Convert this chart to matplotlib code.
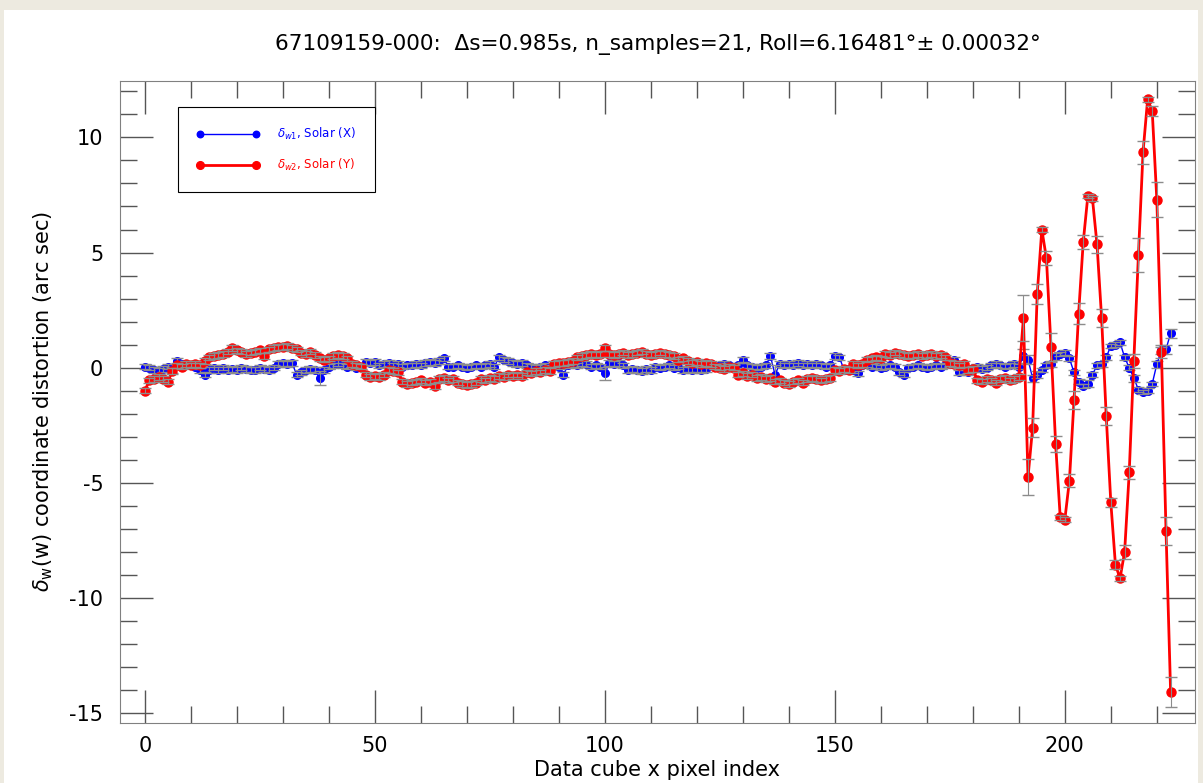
import numpy as np
import matplotlib
matplotlib.use("Agg")
import matplotlib.pyplot as plt
from matplotlib.patches import Rectangle
from matplotlib.ticker import MultipleLocator

plt.rcParams["axes.unicode_minus"] = False

# pixel index along the data cube x axis
pixel_index = list(range(224))

# delta_w1, Solar (X)
solar_x = [
    0.05, 0.0, -0.1, -0.15, -0.05, 0.05, -0.1, 0.3, 0.15, 0.1,
    0.1, 0.05, -0.1, -0.3, -0.1, 0.0, -0.1, 0.0, -0.1, -0.05,
    -0.1, 0.0, -0.05, -0.1, -0.1, 0.0, -0.05, -0.1, 0.0, 0.15,
    0.2, 0.15, 0.2, -0.3, -0.2, -0.1, -0.05, -0.1, -0.45, -0.1,
    0.05, 0.1, 0.2, 0.1, 0.05, 0.15, 0.0, 0.05, 0.25, 0.2,
    0.25, 0.1, 0.15, 0.2, 0.1, 0.15, 0.05, 0.1, 0.1, 0.15,
    0.1, 0.2, 0.25, 0.2, 0.3, 0.4, 0.05, 0.05, 0.1, 0.05,
    0.0, 0.05, 0.1, 0.05, 0.1, 0.15, 0.05, 0.45, 0.35, 0.3,
    0.2, 0.15, 0.2, 0.1, 0.05, 0.0, 0.05, 0.1, 0.0, 0.15,
    0.05, -0.3, 0.1, 0.15, 0.1, 0.2, 0.15, 0.05, 0.1, 0.05,
    -0.25, 0.2, 0.15, 0.2, 0.1, -0.1, -0.05, -0.1, -0.15, -0.05,
    -0.1, 0.05, 0.0, 0.05, 0.1, 0.0, 0.05, -0.1, -0.05, -0.1,
    -0.05, -0.1, -0.05, 0.1, 0.05, 0.1, 0.15, 0.1, 0.05, 0.1,
    0.35, 0.1, 0.05, 0.0, 0.05, 0.1, 0.5, -0.3, 0.15, 0.1,
    0.15, 0.1, 0.2, 0.1, 0.15, 0.1, 0.15, 0.1, 0.05, 0.1,
    0.5, 0.45, -0.1, -0.05, -0.1, -0.25, 0.1, 0.15, 0.05, 0.1,
    0.0, 0.05, 0.1, 0.05, -0.2, -0.3, 0.0, 0.05, 0.1, 0.05,
    0.0, 0.05, 0.1, 0.05, 0.1, 0.15, 0.35, -0.2, -0.15, -0.2,
    0.0, 0.05, -0.05, 0.0, 0.1, 0.15, 0.1, 0.05, 0.1, 0.15,
    0.05, 0.5, 0.35, -0.45, -0.3, -0.1, 0.1, 0.15, 0.5, 0.6,
    0.65, 0.4, -0.2, -0.6, -0.8, -0.7, -0.3, 0.1, 0.15, 0.45,
    0.95, 1.0, 1.1, 0.45, 0.0, -0.45, -0.95, -1.05, -1.0, -0.7,
    0.15, 0.75, 0.8, 1.5,
]

# delta_w2, Solar (Y)
solar_y = [
    -1.0, -0.55, -0.5, -0.4, -0.5, -0.6, -0.15, 0.1, 0.05, 0.15,
    0.1, 0.15, 0.1, 0.3, 0.45, 0.5, 0.55, 0.6, 0.7, 0.85,
    0.75, 0.7, 0.6, 0.65, 0.7, 0.75, 0.5, 0.8, 0.85, 0.9,
    0.9, 0.95, 0.85, 0.8, 0.65, 0.6, 0.7, 0.55, 0.4, 0.35,
    0.4, 0.5, 0.55, 0.5, 0.4, 0.15, 0.1, 0.05, -0.3, -0.4,
    -0.35, -0.4, -0.3, -0.1, -0.15, -0.2, -0.6, -0.7, -0.65, -0.6,
    -0.55, -0.65, -0.6, -0.8, -0.5, -0.45, -0.55, -0.5, -0.65, -0.7,
    -0.75, -0.7, -0.65, -0.5, -0.55, -0.45, -0.5, -0.35, -0.4, -0.3,
    -0.35, -0.3, -0.35, -0.2, -0.25, -0.15, -0.2, -0.1, -0.15, 0.15,
    0.2, 0.2, 0.25, 0.3, 0.45, 0.5, 0.55, 0.6, 0.55, 0.6,
    0.85, 0.6, 0.55, 0.6, 0.65, 0.55, 0.6, 0.65, 0.7, 0.6,
    0.55, 0.6, 0.65, 0.6, 0.55, 0.5, 0.35, 0.4, 0.3, 0.2,
    0.25, 0.15, 0.2, 0.15, 0.05, 0.0, -0.05, 0.05, 0.0, -0.3,
    -0.25, -0.35, -0.3, -0.45, -0.4, -0.5, -0.45, -0.6, -0.55, -0.65,
    -0.7, -0.6, -0.55, -0.65, -0.5, -0.45, -0.5, -0.55, -0.5, -0.45,
    -0.1, -0.15, -0.05, -0.1, 0.15, 0.1, 0.15, 0.35, 0.4, 0.45,
    0.4, 0.6, 0.55, 0.65, 0.6, 0.55, 0.5, 0.55, 0.6, 0.5,
    0.55, 0.6, 0.5, 0.55, 0.45, 0.2, 0.15, 0.1, 0.15, -0.1,
    -0.05, -0.55, -0.6, -0.5, -0.55, -0.65, -0.5, -0.45, -0.55, -0.5,
    -0.4, 2.15, -4.75, -2.6, 3.2, 6.0, 4.75, 0.9, -3.3, -6.5,
    -6.6, -4.9, -1.4, 2.35, 5.45, 7.45, 7.35, 5.35, 2.15, -2.1,
    -5.85, -8.55, -9.15, -8.0, -4.55, 0.3, 4.9, 9.35, 11.65, 11.15,
    7.3, 0.7, -7.1, -14.1,
]

# 1-sigma errors
err_x = [0.12] * 191 + [
    0.3, 0.2, 0.15, 0.15, 0.1, 0.1, 0.1, 0.15, 0.1, 0.1,
    0.1, 0.1, 0.1, 0.1, 0.15, 0.1, 0.1, 0.1, 0.1, 0.1,
    0.1, 0.1, 0.1, 0.1, 0.15, 0.1, 0.1, 0.1, 0.1, 0.15,
    0.15, 0.2, 0.2,
]
err_y = [0.12] * 191 + [
    1.0, 0.8, 0.4, 0.45, 0.1, 0.3, 0.6, 0.35, 0.1, 0.1,
    0.3, 0.4, 0.45, 0.3, 0.1, 0.1, 0.35, 0.4, 0.4, 0.2,
    0.2, 0.1, 0.3, 0.3, 0.3, 0.75, 0.5, 0.1, 0.2, 0.75,
    0.3, 0.6, 0.65,
]
err_x[38] = 0.3
err_x[100] = 0.3
err_x[137] = 0.4

title = "67109159-000:  \u0394s=0.985s, n_samples=21, Roll=6.16481\u00b0\u00b1 0.00032\u00b0"

fig = plt.figure(figsize=(12.03, 7.83), dpi=100, facecolor="#EDEAE0")
fig.patches.append(Rectangle((4 / 1203, 0), 1194 / 1203, 773 / 783,
                             transform=fig.transFigure, facecolor="white",
                             edgecolor="none", zorder=-10))
ax = fig.add_axes([120 / 1203, 1 - 723 / 783, 1075 / 1203, 642 / 783])

ax.plot(pixel_index, solar_x, color="blue", lw=1.0, marker="o", ms=5.5,
        zorder=3, label=r"$\delta_{w1}$, Solar (X)")
ax.errorbar(pixel_index, solar_x, yerr=err_x, fmt="none", ecolor="#8c8c8c",
            elinewidth=0.8, capsize=4, capthick=1.0, zorder=4)
ax.plot(pixel_index, solar_y, color="red", lw=2.0, marker="o", ms=6.5,
        zorder=5, label=r"$\delta_{w2}$, Solar (Y)")
ax.errorbar(pixel_index, solar_y, yerr=err_y, fmt="none", ecolor="#8c8c8c",
            elinewidth=0.8, capsize=4, capthick=1.0, zorder=6)

ax.set_xlim(-5.4, 228.3)
ax.set_ylim(-15.43, 12.45)
ax.xaxis.set_major_locator(MultipleLocator(50))
ax.xaxis.set_minor_locator(MultipleLocator(10))
ax.yaxis.set_major_locator(MultipleLocator(5))
ax.yaxis.set_minor_locator(MultipleLocator(1))
ax.tick_params(which="both", direction="in", top=True, right=True,
               color="#555555", labelsize=15)
ax.tick_params(which="major", length=24, width=1.0)
ax.tick_params(which="minor", length=12, width=1.0)
ax.tick_params(axis="y", which="major", pad=12)
ax.tick_params(axis="x", which="major", pad=9)
for s in ax.spines.values():
    s.set_color("#808080")

ax.set_title(title, fontsize=15.6, pad=22)
ax.set_xlabel("Data cube x pixel index", fontsize=15, labelpad=3)
ax.set_ylabel(r"$\delta_{\rm w}$(w) coordinate distortion (arc sec)",
              fontsize=15, labelpad=10)

leg = ax.legend(loc="upper left", bbox_to_anchor=(0.054, 0.9595),
                borderaxespad=0, numpoints=2, fontsize=8.5, handlelength=5.3,
                handletextpad=1.5, labelspacing=1.3, borderpad=1.6,
                markerscale=0.85, fancybox=False, edgecolor="black",
                framealpha=1)
leg.get_frame().set_linewidth(0.8)
for txt, c in zip(leg.get_texts(), ["blue", "red"]):
    txt.set_color(c)

fig.savefig("out.png", dpi=100, facecolor=fig.get_facecolor())
